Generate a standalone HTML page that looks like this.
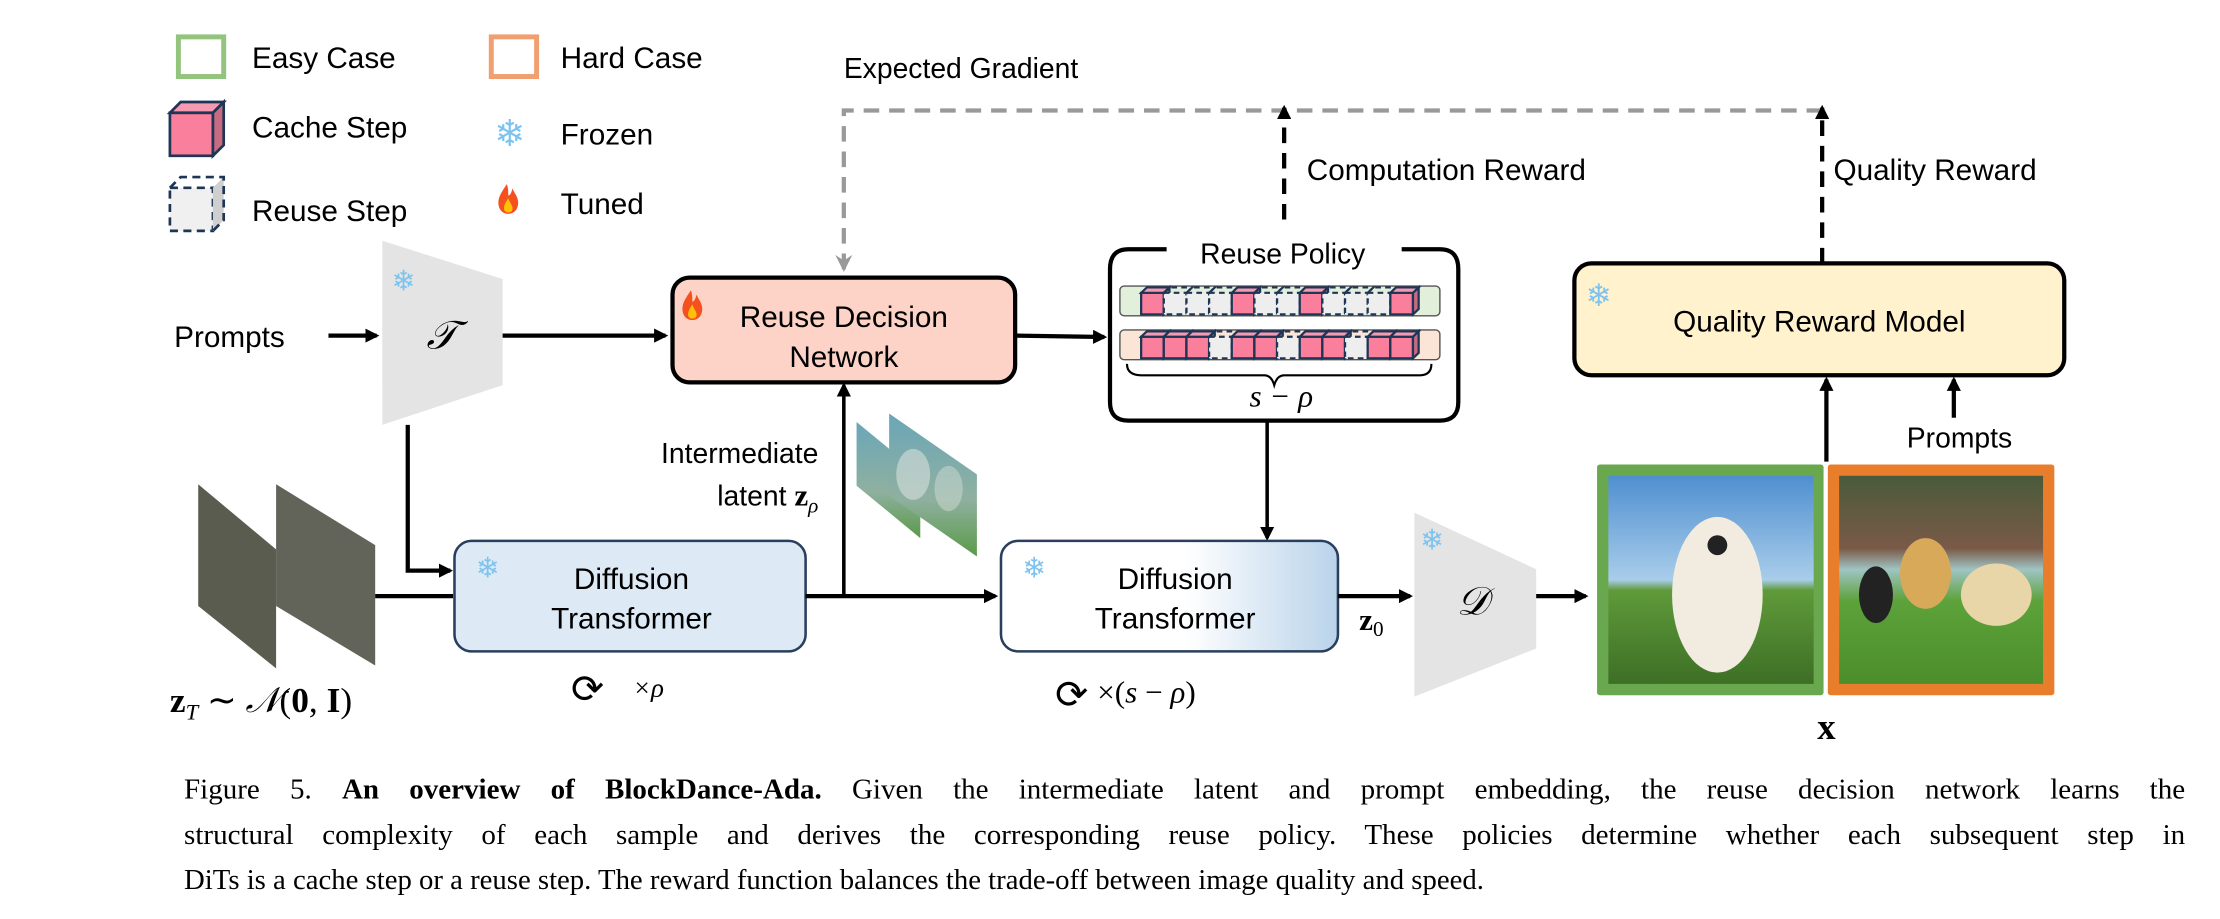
<!DOCTYPE html>
<html><head><meta charset="utf-8"><style>
html,body{margin:0;padding:0;background:#fff;}
svg{display:block;}
text{font-family:"Liberation Sans",sans-serif;}
.s{font-family:"Liberation Serif",serif;}
</style></head><body>
<svg width="2220" height="919" viewBox="0 0 1568 649" xmlns="http://www.w3.org/2000/svg">
<defs>
<marker id="ah" markerWidth="10" markerHeight="10" refX="8" refY="5" orient="auto" markerUnits="userSpaceOnUse"><path d="M0,0 L10,5 L0,10 z" fill="#000"/></marker>
<marker id="ag" markerWidth="12" markerHeight="12" refX="10" refY="6" orient="auto" markerUnits="userSpaceOnUse"><path d="M0,0 L12,6 L0,12 L4,6 z" fill="#999"/></marker>
<linearGradient id="dit2" x1="0" x2="1"><stop offset="0.55" stop-color="#fff"/><stop offset="1" stop-color="#b9d3ea"/></linearGradient>
<linearGradient id="sky" x1="0" y1="0" x2="0" y2="1"><stop offset="0" stop-color="#4f8fd0"/><stop offset="0.5" stop-color="#a9cdea"/><stop offset="0.55" stop-color="#5f9a3a"/><stop offset="1" stop-color="#3d6f25"/></linearGradient>
<linearGradient id="park" x1="0" y1="0" x2="0" y2="1"><stop offset="0" stop-color="#4a5a3a"/><stop offset="0.35" stop-color="#7a5a48"/><stop offset="0.45" stop-color="#9fc4c4"/><stop offset="0.6" stop-color="#5da23a"/><stop offset="1" stop-color="#4b8e2b"/></linearGradient>
<linearGradient id="lat" x1="0" y1="0" x2="0" y2="1"><stop offset="0" stop-color="#6aa6b8"/><stop offset="0.6" stop-color="#8fb0a0"/><stop offset="1" stop-color="#5a9a48"/></linearGradient>
<g id="fire"><path d="M6,0 C2,6 0,9 0,13 C0,18 3,21 7,21 C11,21 14,18 14,13 C14,9 11,6 10,3 C9,7 8,8 7,8 C7,5 7,3 6,0 z" fill="#f4511e"/><path d="M7,10 C5,13 4,15 4,17 C4,19 5.5,20 7,20 C9,20 10,19 10,17 C10,15 8,13 7,10 z" fill="#ffc107"/></g>
<g id="cc"><rect x="0" y="4" width="16" height="16" fill="#f97f9c" stroke="#1f3556" stroke-width="1.6"/><path d="M0,4 L4,0 L20,0 L16,4 z" fill="#f59ab0" stroke="#1f3556" stroke-width="1.6"/><path d="M16,4 L20,0 L20,16 L16,20 z" fill="#c86a80" stroke="#1f3556" stroke-width="1.6"/></g>
<g id="rc"><rect x="0" y="4" width="16" height="16" fill="#eeeeee" stroke="#1f3556" stroke-width="1.6" stroke-dasharray="4,3"/><path d="M0,4 L4,0 L20,0 L16,4" fill="none" stroke="#1f3556" stroke-width="1.6" stroke-dasharray="4,3"/></g>
</defs>

<!-- Legend -->
<rect x="126" y="26" width="32" height="28" fill="none" stroke="#93c47d" stroke-width="3.5"/>
<text x="178" y="48" font-size="21">Easy Case</text>
<rect x="347" y="26" width="32" height="28" fill="none" stroke="#f0a070" stroke-width="3.5"/>
<text x="396" y="48" font-size="21">Hard Case</text>
<g transform="translate(120,72) scale(1.9)"><rect x="0" y="4" width="16" height="16" fill="#f97f9c" stroke="#1f3556" stroke-width="1"/><path d="M0,4 L4,0 L20,0 L16,4 z" fill="#f59ab0" stroke="#1f3556" stroke-width="1"/><path d="M16,4 L20,0 L20,16 L16,20 z" fill="#c86a80" stroke="#1f3556" stroke-width="1"/></g>
<text x="178" y="97" font-size="21">Cache Step</text>
<g transform="translate(120,125) scale(1.9)"><rect x="0" y="4" width="16" height="16" fill="#f0f0f0" stroke="#1f3556" stroke-width="1" stroke-dasharray="3,2"/><path d="M16,4 L20,0 L20,16 L16,20 z" fill="#cfcfcf"/><path d="M0,4 L4,0 L20,0 L20,16 L16,20" fill="none" stroke="#1f3556" stroke-width="1" stroke-dasharray="3,2"/></g>
<text x="178" y="156" font-size="21">Reuse Step</text>
<text x="360" y="103" font-size="26" fill="#7cc3f0" text-anchor="middle" font-family="DejaVu Sans">❄</text>
<text x="396" y="102" font-size="21">Frozen</text>
<use href="#fire" x="352" y="130"/>
<text x="396" y="151" font-size="21">Tuned</text>

<!-- Gradient/reward dashed -->
<text x="596" y="55" font-size="20">Expected Gradient</text>
<path d="M1287,78 L601,78 L596,78 L596,190" fill="none" stroke="#999" stroke-width="3" stroke-dasharray="11,7" marker-end="url(#ag)"/>
<path d="M907,155 L907,76" fill="none" stroke="#000" stroke-width="3" stroke-dasharray="11,7" marker-end="url(#ah)"/>
<text x="923" y="127" font-size="21">Computation Reward</text>
<path d="M1287,186 L1287,76" fill="none" stroke="#000" stroke-width="3" stroke-dasharray="11,7" marker-end="url(#ah)"/>
<text x="1295" y="127" font-size="21">Quality Reward</text>

<!-- Encoder -->
<polygon points="270,170 355,197 355,272 270,300" fill="#e4e4e4"/>
<text x="285" y="205" font-size="20" fill="#7cc3f0" text-anchor="middle" font-family="DejaVu Sans">❄</text>
<text x="312" y="246" font-size="28" font-style="italic" class="s" text-anchor="middle">𝒯</text>
<text x="123" y="245" font-size="21">Prompts</text>
<line x1="232" y1="237" x2="266" y2="237" stroke="#000" stroke-width="3" marker-end="url(#ah)"/>
<line x1="355" y1="237" x2="470" y2="237" stroke="#000" stroke-width="3" marker-end="url(#ah)"/>

<!-- RDN -->
<rect x="475" y="196" width="242" height="74" rx="12" fill="#fcd3c6" stroke="#000" stroke-width="3"/>
<use href="#fire" x="482" y="205"/>
<text x="596" y="231" font-size="21" text-anchor="middle">Reuse Decision</text>
<text x="596" y="259" font-size="21" text-anchor="middle">Network</text>
<line x1="717" y1="237" x2="780" y2="238" stroke="#000" stroke-width="3" marker-end="url(#ah)"/>

<!-- Reuse policy -->
<path d="M824,176 L797,176 Q784,176 784,190 L784,284 Q784,297 797,297 L1017,297 Q1030,297 1030,284 L1030,190 Q1030,176 1017,176 L990,176" fill="none" stroke="#000" stroke-width="3"/>
<text x="906" y="186" font-size="20" text-anchor="middle">Reuse Policy</text>
<rect x="791" y="202" width="226" height="21" rx="3" fill="#e2efda" stroke="#555" stroke-width="1"/>
<rect x="791" y="233" width="226" height="21" rx="3" fill="#fbe5d6" stroke="#555" stroke-width="1"/>
<g transform="translate(806,203) scale(1,0.95)">
<use href="#cc" x="0"/><use href="#rc" x="16"/><use href="#rc" x="32"/><use href="#rc" x="48"/><use href="#cc" x="64"/><use href="#rc" x="80"/><use href="#rc" x="96"/><use href="#cc" x="112"/><use href="#rc" x="128"/><use href="#rc" x="144"/><use href="#rc" x="160"/><use href="#cc" x="176"/>
</g>
<g transform="translate(806,234) scale(1,0.95)">
<use href="#cc" x="0"/><use href="#cc" x="16"/><use href="#cc" x="32"/><use href="#rc" x="48"/><use href="#cc" x="64"/><use href="#cc" x="80"/><use href="#rc" x="96"/><use href="#cc" x="112"/><use href="#cc" x="128"/><use href="#rc" x="144"/><use href="#cc" x="160"/><use href="#cc" x="176"/>
</g>
<path d="M796,257 Q796,265 806,265 L893,265 Q898,265 900,272 Q902,265 907,265 L1003,265 Q1011,265 1011,257" fill="none" stroke="#000" stroke-width="1.5"/>
<text x="905" y="287" font-size="22" class="s" text-anchor="middle" font-style="italic">s − ρ</text>
<line x1="895" y1="297" x2="895" y2="380" stroke="#000" stroke-width="2.5" marker-end="url(#ah)"/>

<!-- Left path -->
<polyline points="288,300 288,403 318,403" fill="none" stroke="#000" stroke-width="3" marker-end="url(#ah)"/>
<polygon points="140,342 195,388 195,472 140,428" fill="#5a5c50"/>
<polygon points="195,342 265,385 265,470 195,428" fill="#62645a"/>
<line x1="265" y1="421" x2="320" y2="421" stroke="#000" stroke-width="3"/>
<text x="120" y="503" font-size="25" class="s"><tspan font-weight="bold">z</tspan><tspan font-size="16" dy="5" font-style="italic">T</tspan><tspan dy="-5"> ∼ </tspan><tspan font-style="italic">𝒩</tspan>(<tspan font-weight="bold">0</tspan>, <tspan font-weight="bold">I</tspan>)</text>

<!-- DiT1 -->
<rect x="321" y="382" width="248" height="78" rx="12" fill="#dde9f5" stroke="#2a3f5e" stroke-width="1.8"/>
<text x="336" y="408" font-size="20" fill="#7cc3f0" font-family="DejaVu Sans">❄</text>
<text x="446" y="416" font-size="21" text-anchor="middle">Diffusion</text>
<text x="446" y="444" font-size="21" text-anchor="middle">Transformer</text>
<text x="415" y="496" font-size="28" text-anchor="middle" font-family="DejaVu Sans">⟳</text>
<text x="447" y="492" font-size="19" class="s" font-style="italic">×ρ</text>
<line x1="569" y1="421" x2="703" y2="421" stroke="#000" stroke-width="3" marker-end="url(#ah)"/>
<line x1="596" y1="421" x2="596" y2="272" stroke="#000" stroke-width="2.5" marker-end="url(#ah)"/>
<text x="578" y="327" font-size="20" text-anchor="end">Intermediate</text>
<text x="578" y="357" font-size="20" text-anchor="end">latent <tspan class="s" font-weight="bold" font-size="22">z</tspan><tspan class="s" font-style="italic" font-size="15" dy="5">ρ</tspan></text>
<polygon points="605,298 650,335 650,380 605,343" fill="url(#lat)"/>
<polygon points="628,292 690,335 690,393 628,350" fill="url(#lat)"/>
<ellipse cx="645" cy="335" rx="12" ry="18" fill="#d8e0dc" opacity="0.6"/>
<ellipse cx="670" cy="345" rx="10" ry="16" fill="#d0dcd4" opacity="0.5"/>

<!-- DiT2 -->
<rect x="707" y="382" width="238" height="78" rx="12" fill="url(#dit2)" stroke="#2a3f5e" stroke-width="1.8"/>
<text x="722" y="408" font-size="20" fill="#7cc3f0" font-family="DejaVu Sans">❄</text>
<text x="830" y="416" font-size="21" text-anchor="middle">Diffusion</text>
<text x="830" y="444" font-size="21" text-anchor="middle">Transformer</text>
<text x="757" y="500" font-size="28" text-anchor="middle" font-family="DejaVu Sans">⟳</text>
<text x="775" y="496" font-size="22" class="s">×(<tspan font-style="italic">s</tspan> − <tspan font-style="italic">ρ</tspan>)</text>
<text x="960" y="445" font-size="22" class="s" font-weight="bold">z<tspan font-weight="normal" font-size="15" dy="4">0</tspan></text>
<line x1="945" y1="421" x2="996" y2="421" stroke="#000" stroke-width="3" marker-end="url(#ah)"/>

<!-- Decoder -->
<polygon points="999,362 1085,402 1085,458 999,492" fill="#e4e4e4"/>
<text x="1003" y="388" font-size="20" fill="#7cc3f0" font-family="DejaVu Sans">❄</text>
<text x="1040" y="434" font-size="28" class="s" font-style="italic" text-anchor="middle">𝒟</text>
<line x1="1085" y1="421" x2="1120" y2="421" stroke="#000" stroke-width="3" marker-end="url(#ah)"/>

<!-- Images -->
<rect x="1128" y="328" width="160" height="163" rx="2" fill="#6aa84f"/>
<rect x="1136" y="336" width="145" height="147" fill="url(#sky)"/>
<ellipse cx="1213" cy="420" rx="32" ry="55" fill="#f2ece0"/>
<circle cx="1213" cy="385" r="7" fill="#222"/>
<rect x="1291" y="328" width="160" height="163" rx="2" fill="#e87d2c"/>
<rect x="1299" y="336" width="144" height="147" fill="url(#park)"/>
<ellipse cx="1360" cy="405" rx="18" ry="25" fill="#d9a95a"/>
<ellipse cx="1410" cy="420" rx="25" ry="22" fill="#e8d5a8"/>
<ellipse cx="1325" cy="420" rx="12" ry="20" fill="#222"/>
<text x="1290" y="522" font-size="26" class="s" font-weight="bold" text-anchor="middle">x</text>

<!-- QRM -->
<rect x="1112" y="186" width="346" height="79" rx="12" fill="#fff2cc" stroke="#000" stroke-width="3"/>
<text x="1120" y="216" font-size="22" fill="#7cc3f0" font-family="DejaVu Sans">❄</text>
<text x="1285" y="234" font-size="21" text-anchor="middle">Quality Reward Model</text>
<line x1="1290" y1="326" x2="1290" y2="268" stroke="#000" stroke-width="3" marker-end="url(#ah)"/>
<line x1="1380" y1="295" x2="1380" y2="268" stroke="#000" stroke-width="3" marker-end="url(#ah)"/>
<text x="1384" y="316" font-size="20" text-anchor="middle">Prompts</text>

<!-- Caption -->
<text class="s" x="130" y="564" font-size="20.5" word-spacing="16.2">Figure 5. <tspan font-weight="bold">An overview of BlockDance-Ada.</tspan> Given the intermediate latent and prompt embedding, the reuse decision network learns the</text>
<text class="s" x="130" y="596" font-size="20.5" word-spacing="15.1">structural complexity of each sample and derives the corresponding reuse policy. These policies determine whether each subsequent step in</text>
<text class="s" x="130" y="628" font-size="20.3">DiTs is a cache step or a reuse step. The reward function balances the trade-off between image quality and speed.</text>
</svg>
</body></html>
